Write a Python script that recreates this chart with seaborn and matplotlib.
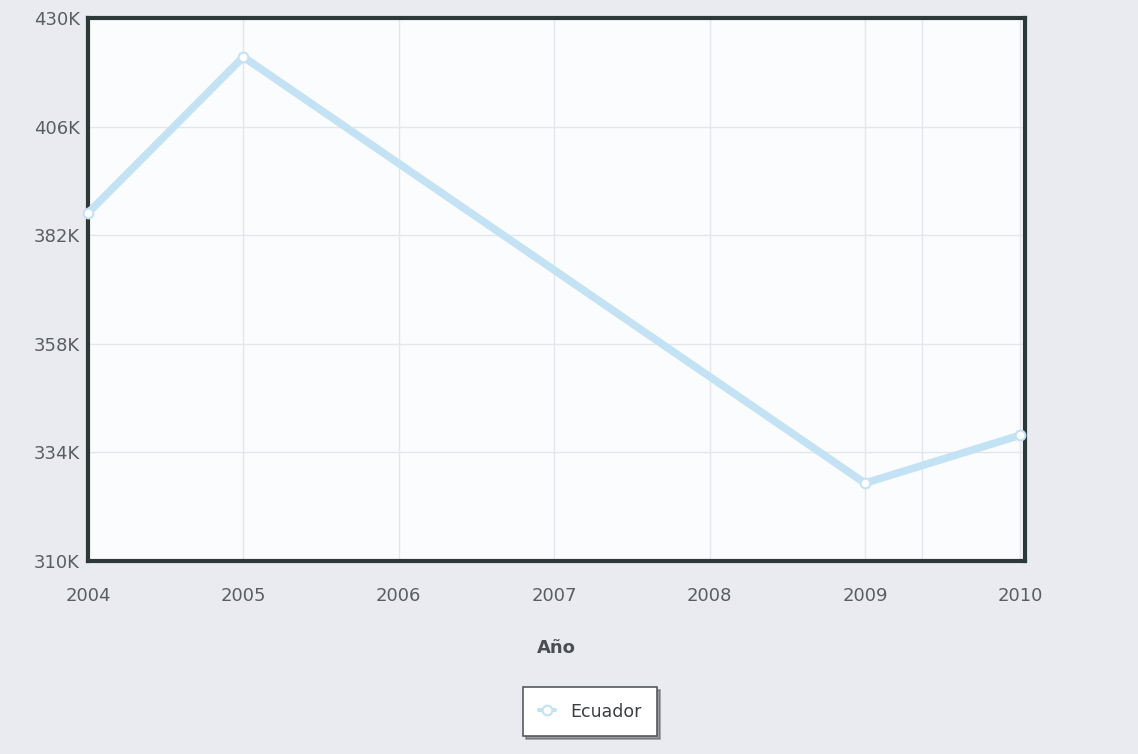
import matplotlib
matplotlib.use("Agg")
import matplotlib.pyplot as plt
from matplotlib.ticker import FuncFormatter, FixedLocator
import seaborn as sns
import pandas as pd

# Data: Ecuador, by year
years = [2004, 2005, 2009, 2010]
values = [386900, 421400, 327200, 337800]
series_name = "Ecuador"

y_ticks = [310000, 334000, 358000, 382000, 406000, 430000]
x_ticks = [2004, 2005, 2006, 2007, 2008, 2009, 2010]

df = pd.DataFrame({"Año": years, "valor": values, "país": series_name})

sns.set_theme(style="white")
plt.rcParams["font.family"] = ["DejaVu Sans"]

fig = plt.figure(figsize=(11.38, 7.54), dpi=100)
fig.patch.set_facecolor("#e9ebf1")
ax = fig.add_axes([0.0773, 0.256, 0.8234, 0.7201])
ax.set_facecolor("#fbfcfd")

line_color = "#c3e2f3"
sns.lineplot(data=df, x="Año", y="valor", hue="país", palette=[line_color],
             linewidth=5.5, marker="o", markersize=7, markerfacecolor="white",
             markeredgecolor=line_color, markeredgewidth=1.5, ax=ax,
             solid_joinstyle="round", solid_capstyle="round", clip_on=False, zorder=3)

ax.set_xlim(2004, 2010.03)
ax.set_ylim(310000, 430000)
ax.yaxis.set_major_locator(FixedLocator(y_ticks))
ax.xaxis.set_major_locator(FixedLocator(x_ticks))
ax.yaxis.set_major_formatter(FuncFormatter(lambda v, p: f"{int(round(v / 1000))}K"))
ax.xaxis.set_major_formatter(FuncFormatter(lambda v, p: f"{int(v)}"))

ax.grid(True, color="#e3e7ed", linewidth=1.0)
ax.axvline(2009.37, color="#e3e7ed", linewidth=1.0, zorder=0)
ax.set_axisbelow(True)

for s in ax.spines.values():
    s.set_color("#2d3838")
    s.set_linewidth(3)

ax.tick_params(axis="both", length=0, labelsize=13, labelcolor="#5a5e62")
ax.tick_params(axis="x", pad=19)
ax.tick_params(axis="y", pad=6)

ax.set_xlabel("Año", fontsize=13, fontweight="bold", color="#4a4e52", labelpad=24)
ax.set_ylabel("")

leg = ax.legend(loc="upper center", bbox_to_anchor=(0.536, -0.232), frameon=True,
                fontsize=12.5, handlelength=0.9, borderpad=0.9, handletextpad=0.9,
                borderaxespad=0.0, fancybox=False, shadow=True)
leg.get_frame().set_edgecolor("#555a5e")
leg.get_frame().set_facecolor("white")
leg.get_frame().set_linewidth(1.2)
for t in leg.get_texts():
    t.set_color("#3a3e42")
for h in leg.get_lines():
    h.set_linewidth(3)

fig.savefig("out.png", dpi=100, facecolor=fig.get_facecolor())
